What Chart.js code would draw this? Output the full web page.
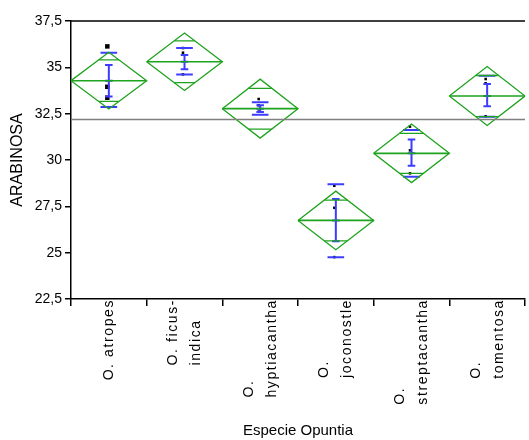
<!DOCTYPE html>
<html>
<head>
<meta charset="utf-8">
<script src="https://cdn.jsdelivr.net/npm/chart.js@4.4.1/dist/chart.umd.min.js"></script>
<style>
    html, body { margin: 0; padding: 0; background: #fff; overflow: hidden; }
    #wrap { width: 529px; height: 440px; }
</style>
</head>
<body>
<div id="wrap"><canvas id="arabinosaChart"></canvas></div>
<script>
// categories (x axis), one line of text per array entry
var species = ['O. atropes', 'O. ficus-indica', 'O. hyptiacantha', 'O. joconostle', 'O. streptacantha', 'O. tomentosa'];
var speciesLines = [
    ['O. atropes'],
    ['O. ficus-', 'indica'],
    ['O.', 'hyptiacantha'],
    ['O.', 'joconostle'],
    ['O.', 'streptacantha'],
    ['O.', 'tomentosa']
];

// means and 95% confidence half-widths (means diamonds)
var means = [34.28, 35.30, 32.77, 26.74, 30.36, 33.45];
var ciHalf = [1.53, 1.55, 1.59, 1.58, 1.58, 1.59];
var overlapHalf = [1.12, 1.13, 1.10, 1.10, 1.08, 1.11];

// std dev lines and mean error bars
var sdHigh = [35.79, 36.04, 33.11, 28.69, 31.62, 34.55];
var sdLow = [32.86, 34.62, 32.44, 24.75, 29.10, 32.34];
var seHigh = [35.13, 35.67, 32.95, 27.89, 31.10, 34.10];
var seLow = [33.43, 34.89, 32.59, 25.61, 29.69, 32.90];

// raw observations
var observations = [
    [36.13, 33.95, 33.36],
    [36.04, 35.79, 34.62],
    [33.29, 32.95, 32.61],
    [28.61, 27.42, 24.76],
    [31.80, 30.52, 29.28],
    [34.37, 34.14, 32.36]
];

var grandMean = 32.19;

// y axis ticks
var yMin = 22.5;
var yMax = 37.5;
var yStep = 2.5;

var GREEN = '#1ea31e';
var BLUE = '#3c3cff';
var FONT = '"Liberation Sans", Arial, sans-serif';

// build line segments (null breaks the line between groups)
var diamondPts = [], meanPts = [], overlapPts = [], sdPts = [], sePts = [], obsPts = [], bigObsPts = [];
species.forEach(function(name, i) {
    var m = means[i], c = ciHalf[i];
    diamondPts.push({x: i - 0.5, y: m}, {x: i, y: m + c}, {x: i + 0.5, y: m}, {x: i, y: m - c}, {x: i - 0.5, y: m}, {x: i, y: null});
    meanPts.push({x: i - 0.5, y: m}, {x: i + 0.5, y: m}, {x: i, y: null});
    var w = 0.5 * (1 - overlapHalf[i] / c);
    overlapPts.push({x: i - w, y: m + overlapHalf[i]}, {x: i + w, y: m + overlapHalf[i]}, {x: i, y: null});
    overlapPts.push({x: i - w, y: m - overlapHalf[i]}, {x: i + w, y: m - overlapHalf[i]}, {x: i, y: null});
    sdPts.push({x: i - 0.11, y: sdHigh[i]}, {x: i + 0.11, y: sdHigh[i]}, {x: i, y: null});
    sdPts.push({x: i - 0.11, y: sdLow[i]}, {x: i + 0.11, y: sdLow[i]}, {x: i, y: null});
    sePts.push({x: i, y: seHigh[i]}, {x: i, y: seLow[i]}, {x: i, y: null});
    sePts.push({x: i - 0.05, y: seHigh[i]}, {x: i + 0.05, y: seHigh[i]}, {x: i, y: null});
    sePts.push({x: i - 0.05, y: seLow[i]}, {x: i + 0.05, y: seLow[i]}, {x: i, y: null});
    sePts.push({x: i - 0.05, y: m}, {x: i + 0.05, y: m}, {x: i, y: null});
    observations[i].forEach(function(v) {
        if (i === 0) bigObsPts.push({x: i - 0.02, y: v});
        else obsPts.push({x: i - 0.02, y: v});
    });
});

function lineSet(data, color, width) {
    return {
        type: 'line', xAxisID: 'xv', data: data, borderColor: color, borderWidth: width,
        pointRadius: 0, pointHoverRadius: 0, spanGaps: false, fill: false, tension: 0
    };
}

// frame line on top + rotated category labels
var extrasPlugin = {
    id: 'extras',
    afterDraw: function(chart) {
        var ctx = chart.ctx;
        var area = chart.chartArea;
        var xs = chart.scales.x;
        ctx.save();
        ctx.strokeStyle = '#000';
        ctx.lineWidth = 1.5;
        ctx.beginPath();
        ctx.moveTo(area.left, area.top);
        ctx.lineTo(area.right, area.top);
        ctx.stroke();

        ctx.fillStyle = '#000';
        ctx.font = '14px ' + FONT;
        ctx.letterSpacing = '1.6px';
        ctx.textBaseline = 'middle';
        ctx.textAlign = 'left';
        speciesLines.forEach(function(lines, i) {
            var cx = xs.getPixelForValue(i);
            var maxW = 0;
            lines.forEach(function(t) { maxW = Math.max(maxW, ctx.measureText(t).width); });
            lines.forEach(function(t, j) {
                var px = cx + (j - (lines.length - 1) / 2) * 23;
                ctx.save();
                ctx.translate(px, area.bottom);
                ctx.rotate(-Math.PI / 2);
                ctx.fillText(t, -maxW, 0);
                ctx.restore();
            });
        });
        ctx.restore();
    }
};

var ctx = document.getElementById('arabinosaChart').getContext('2d');
var arabinosaChart = new Chart(ctx, {
    data: {
        labels: species,
        datasets: [
            lineSet([{x: -0.5, y: grandMean}, {x: 5.5, y: grandMean}], '#808080', 1.5),
            lineSet(diamondPts, GREEN, 1.3),
            lineSet(meanPts, GREEN, 1.6),
            lineSet(overlapPts, GREEN, 1.3),
            lineSet(sdPts, BLUE, 2),
            lineSet(sePts, BLUE, 2),
            {
                type: 'scatter', xAxisID: 'xv', data: obsPts, pointStyle: 'rect',
                pointRadius: 1.8, backgroundColor: '#000', borderColor: '#000', borderWidth: 0
            },
            {
                type: 'scatter', xAxisID: 'xv', data: bigObsPts, pointStyle: 'rect',
                pointRadius: 3.2, backgroundColor: '#000', borderColor: '#000', borderWidth: 0
            }
        ]
    },
    options: {
        responsive: true,
        maintainAspectRatio: false,
        animation: false,
        layout: { padding: { top: 21, right: 0, left: 0, bottom: 0 } },
        plugins: { legend: { display: false }, tooltip: { enabled: false } },
        scales: {
            x: {
                type: 'category',
                offset: true,
                grid: { offset: true, drawOnChartArea: false, drawTicks: true, tickLength: 7, color: '#000', lineWidth: 1.5 },
                border: { color: '#000', width: 1.5 },
                ticks: { display: false },
                title: { display: true, text: 'Especie Opuntia', color: '#000', font: { family: FONT, size: 15 }, padding: { top: 0, bottom: 0 } },
                afterFit: function(scale) { scale.height = 141; }
            },
            xv: {
                type: 'linear', display: false, min: -0.5, max: 5.5
            },
            y: {
                min: yMin,
                max: yMax,
                grid: { drawOnChartArea: false, drawTicks: true, tickLength: 6, color: '#000', lineWidth: 1.5 },
                border: { color: '#000', width: 1.5 },
                ticks: {
                    stepSize: yStep,
                    color: '#000',
                    padding: 3,
                    font: { family: FONT, size: 14 },
                    callback: function(v) { return String(v).replace('.', ','); }
                },
                title: { display: true, text: 'ARABINOSA', color: '#000', font: { family: FONT, size: 16 }, padding: { top: 8, bottom: 0 } },
                afterFit: function(scale) { scale.width = 71; }
            }
        }
    },
    plugins: [extrasPlugin]
});
</script>
</body>
</html>
